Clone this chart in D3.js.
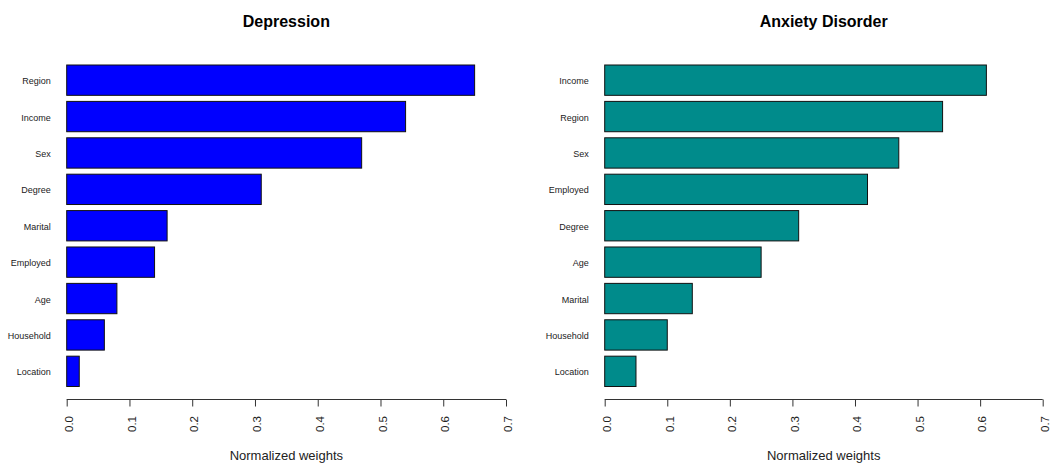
<!DOCTYPE html>
<html>
<head>
<meta charset="utf-8">
<script src="https://cdn.jsdelivr.net/npm/d3@7"></script>
<style>
  html, body { margin: 0; padding: 0; background: #fff; }
  svg { display: block; font-family: "Liberation Sans", Arial, sans-serif; }
</style>
</head>
<body>
<svg id="chart" width="1050" height="464"></svg>
<script>
const depCategories = ["Region", "Income", "Sex", "Degree", "Marital", "Employed", "Age", "Household", "Location"];
const depValues     = [0.65, 0.54, 0.47, 0.31, 0.16, 0.14, 0.08, 0.06, 0.02];
const anxCategories = ["Income", "Region", "Sex", "Employed", "Degree", "Age", "Marital", "Household", "Location"];
const anxValues     = [0.61, 0.54, 0.47, 0.42, 0.31, 0.25, 0.14, 0.10, 0.05];
const xTicks = [0, 0.1, 0.2, 0.3, 0.4, 0.5, 0.6, 0.7];
const xLabel = "Normalized weights";

const svg = d3.select("#chart");

const panels = [
  { title: "Depression", cats: depCategories, vals: depValues, color: "#0000FF", x0: 66.7, x1: 506 },
  { title: "Anxiety Disorder", cats: anxCategories, vals: anxValues, color: "#008B8B", x0: 604.7, x1: 1042.7 }
];

panels.forEach(p => {
  const g = svg.append("g");
  const x = d3.scaleLinear().domain([0, 0.7]).range([p.x0, p.x1]);
  const y = d3.scaleBand().domain(p.cats).range([65, 386.5]).paddingInner(0.2 / 1.2).paddingOuter(0);

  g.selectAll("rect.bar")
    .data(p.cats.map((c, i) => ({ c, v: p.vals[i] })))
    .join("rect")
    .attr("class", "bar")
    .attr("x", x(0))
    .attr("y", d => y(d.c))
    .attr("width", d => x(d.v) - x(0))
    .attr("height", y.bandwidth())
    .attr("fill", p.color)
    .attr("stroke", "#111")
    .attr("stroke-width", 1);

  // category labels
  g.selectAll("text.cat")
    .data(p.cats)
    .join("text")
    .attr("class", "cat")
    .attr("x", p.x0 - 16)
    .attr("y", d => y(d) + y.bandwidth() / 2)
    .attr("dy", "0.45em")
    .attr("text-anchor", "end")
    .attr("font-size", "9px")
    .attr("fill", "#222")
    .text(d => d);

  // x axis
  const axis = d3.axisBottom(x).tickValues(xTicks).tickFormat(d3.format(".1f")).tickSize(7).tickSizeOuter(0);
  const ag = g.append("g").attr("transform", "translate(0,399.5)").call(axis);
  ag.select(".domain").attr("stroke", "#333").attr("d", `M${x(0)},0H${x(0.7)}`);
  ag.selectAll(".tick line").attr("stroke", "#333");
  ag.selectAll(".tick text")
    .attr("transform", "rotate(-90)")
    .attr("x", -16.5)
    .attr("y", 0)
    .attr("dy", "0.5em")
    .attr("text-anchor", "end")
    .attr("font-size", "11.5px")
    .attr("font-family", "'Liberation Sans', Arial, sans-serif")
    .attr("fill", "#222");

  // x label
  g.append("text")
    .attr("x", (p.x0 + p.x1) / 2)
    .attr("y", 460)
    .attr("text-anchor", "middle")
    .attr("font-size", "13px")
    .attr("fill", "#222")
    .text(xLabel);

  // title
  g.append("text")
    .attr("x", (p.x0 + p.x1) / 2)
    .attr("y", 27)
    .attr("text-anchor", "middle")
    .attr("font-size", "16px")
    .attr("font-weight", "bold")
    .attr("fill", "#000")
    .text(p.title);
});
</script>
</body>
</html>
